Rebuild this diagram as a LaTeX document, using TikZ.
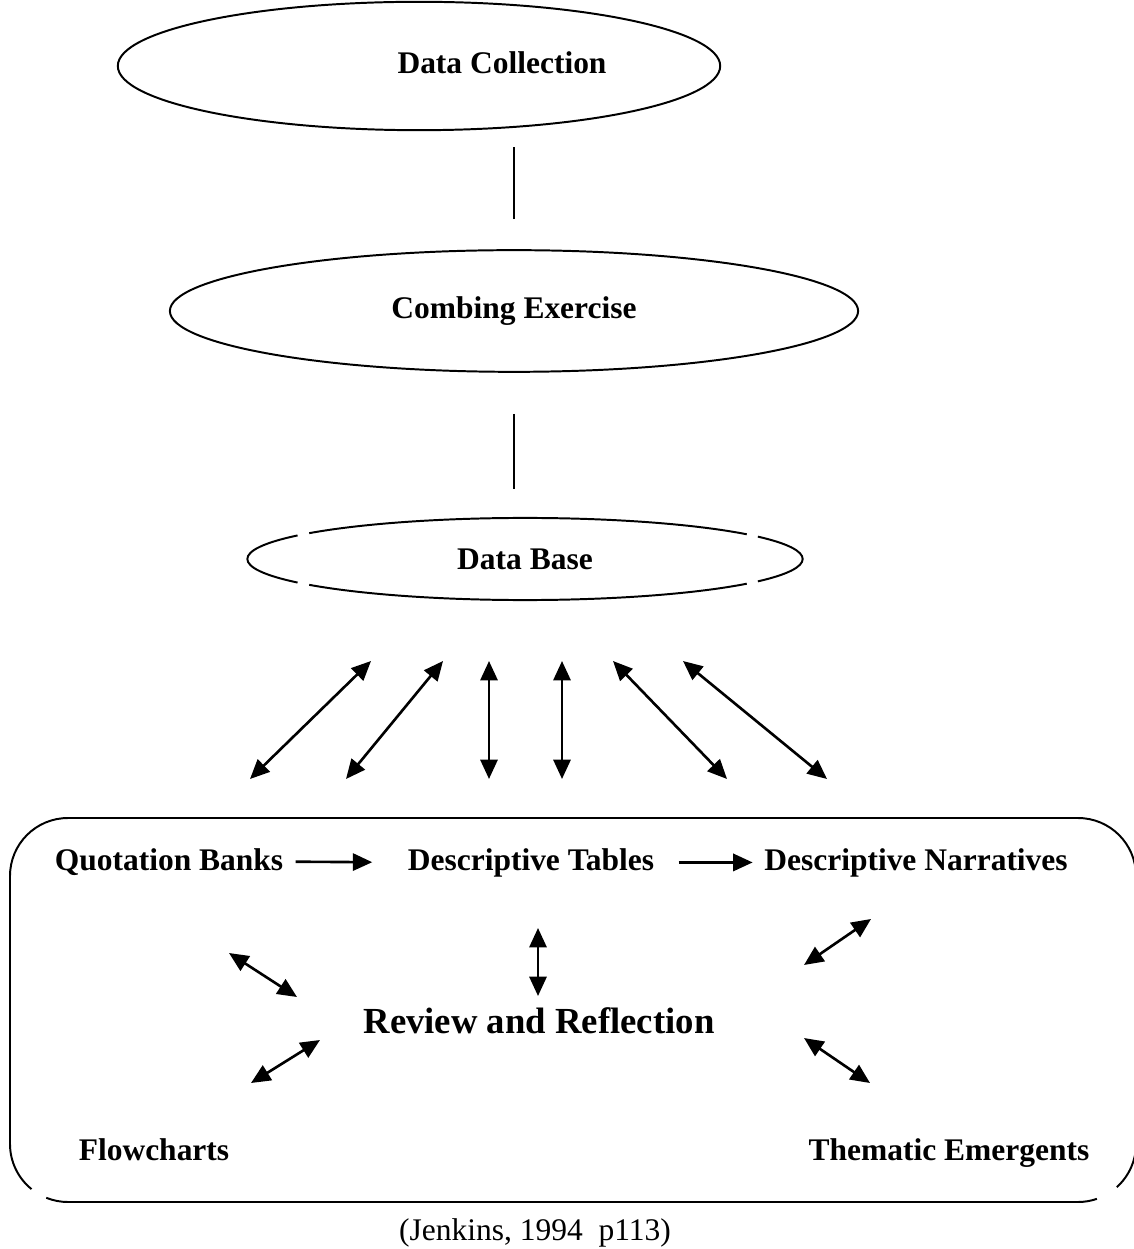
\documentclass[tikz,border=0pt]{standalone}
\usepackage{fontspec}
\setmainfont{Liberation Serif}
\usetikzlibrary{shapes.geometric,arrows.meta}

\begin{document}
\begin{tikzpicture}[x=0.0134cm, y=-0.0134cm,
    oval/.style={ellipse, draw, line width=0.75pt, inner sep=0pt,
        font=\bfseries\fontsize{12}{14}\selectfont},
    lbl/.style={inner sep=0pt, anchor=base, font=\bfseries\fontsize{12}{14}\selectfont},
    link/.style={line width=0.6pt},
    dbl/.style={line width=1pt, {Triangle[length=0.26cm, width=0.23cm]}-{Triangle[length=0.26cm, width=0.23cm]}},
    one/.style={line width=1pt, -{Triangle[length=0.26cm, width=0.23cm]}}]
    % 画布
    \useasboundingbox (0,0) rectangle (1133,1249);

    % 椭圆
    \node[oval, minimum width=8.07cm, minimum height=1.72cm] (collect) at (419,66) {};
    \node[lbl] (collecttxt) at (502,74) {Data Collection};
    \node[oval, minimum width=9.22cm, minimum height=1.63cm] (comb) at (514,311) {Combing Exercise};
    \node[oval, draw=none, minimum width=7.44cm, minimum height=1.10cm] (base) at (525,559) {Data Base};
    % 椭圆上的缺口
    \foreach \a/\b in {37/141, 145/215, 219/323, 327/393}
        \draw[line width=0.75pt] ([shift={(\a:3.72cm and 0.55cm)}]base.center)
            arc[start angle=\a, end angle=\b, x radius=3.72cm, y radius=0.55cm];

    % 竖线
    \draw[link] (comb.north) ++(0,-30) -- ++(0,-72);
    \draw[link] (comb.south) ++(0,41) -- ++(0,75);

    % 双向箭头
    \foreach \n/\xa/\xb in {1/371/250, 2/443/346, 3/489/489, 4/562/562, 5/613/727, 6/683/827} {
        \coordinate (hi\n) at (\xa,661);
        \coordinate (lo\n) at (\xb,779);
        \draw[dbl] (hi\n) -- (lo\n);
    }

    % 圆角框（右边被截掉）
    \draw[line width=0.75pt] ([shift={(248:0.777cm)}]68,1144)
        arc[start angle=248, end angle=270, radius=0.777cm] -- (1078,1202)
        arc[start angle=270, end angle=289, radius=0.777cm];
    \draw[line width=0.75pt] ([shift={(312:0.777cm)}]1078,1144)
        arc[start angle=312, end angle=360, radius=0.777cm] -- (1136,876)
        arc[start angle=0, end angle=90, radius=0.777cm] -- (68,818)
        arc[start angle=90, end angle=180, radius=0.777cm] -- (10,1144)
        arc[start angle=180, end angle=231, radius=0.777cm];

    % 框内文字
    \node[lbl] (quote) at (169,870) {Quotation Banks};
    \node[lbl] (table) at (531,870) {Descriptive Tables};
    \node[lbl] (narr) at (916,870) {Descriptive Narratives};
    \node[lbl, font=\bfseries\fontsize{14}{17}\selectfont] (review) at (539,1033) {Review and Reflection};
    \node[lbl] (flow) at (154,1160) {Flowcharts};
    \node[lbl] (theme) at (949,1160) {Thematic Emergents};

    \draw[one, shorten <=0.16cm, shorten >=0.47cm] (quote.east) -- (table.west);
    \draw[one, shorten <=0.32cm, shorten >=0.15cm] (table.east) -- (narr.west);

    \foreach \n/\xa/\ya/\xb/\yb in {a/229/953/297/997, b/538/928/538/996, c/871/919/804/965,
        d/320/1040/251/1083, e/804/1038/870/1083} {
        \coordinate (p\n) at (\xa,\ya);
        \coordinate (q\n) at (\xb,\yb);
        \draw[dbl] (p\n) -- (q\n);
    }

    % 出处
    \node[font=\fontsize{12}{14}\selectfont, inner sep=0pt, anchor=base] (src) at (535,1240) {(Jenkins, 1994\ \ p113)};
\end{tikzpicture}
\end{document}
